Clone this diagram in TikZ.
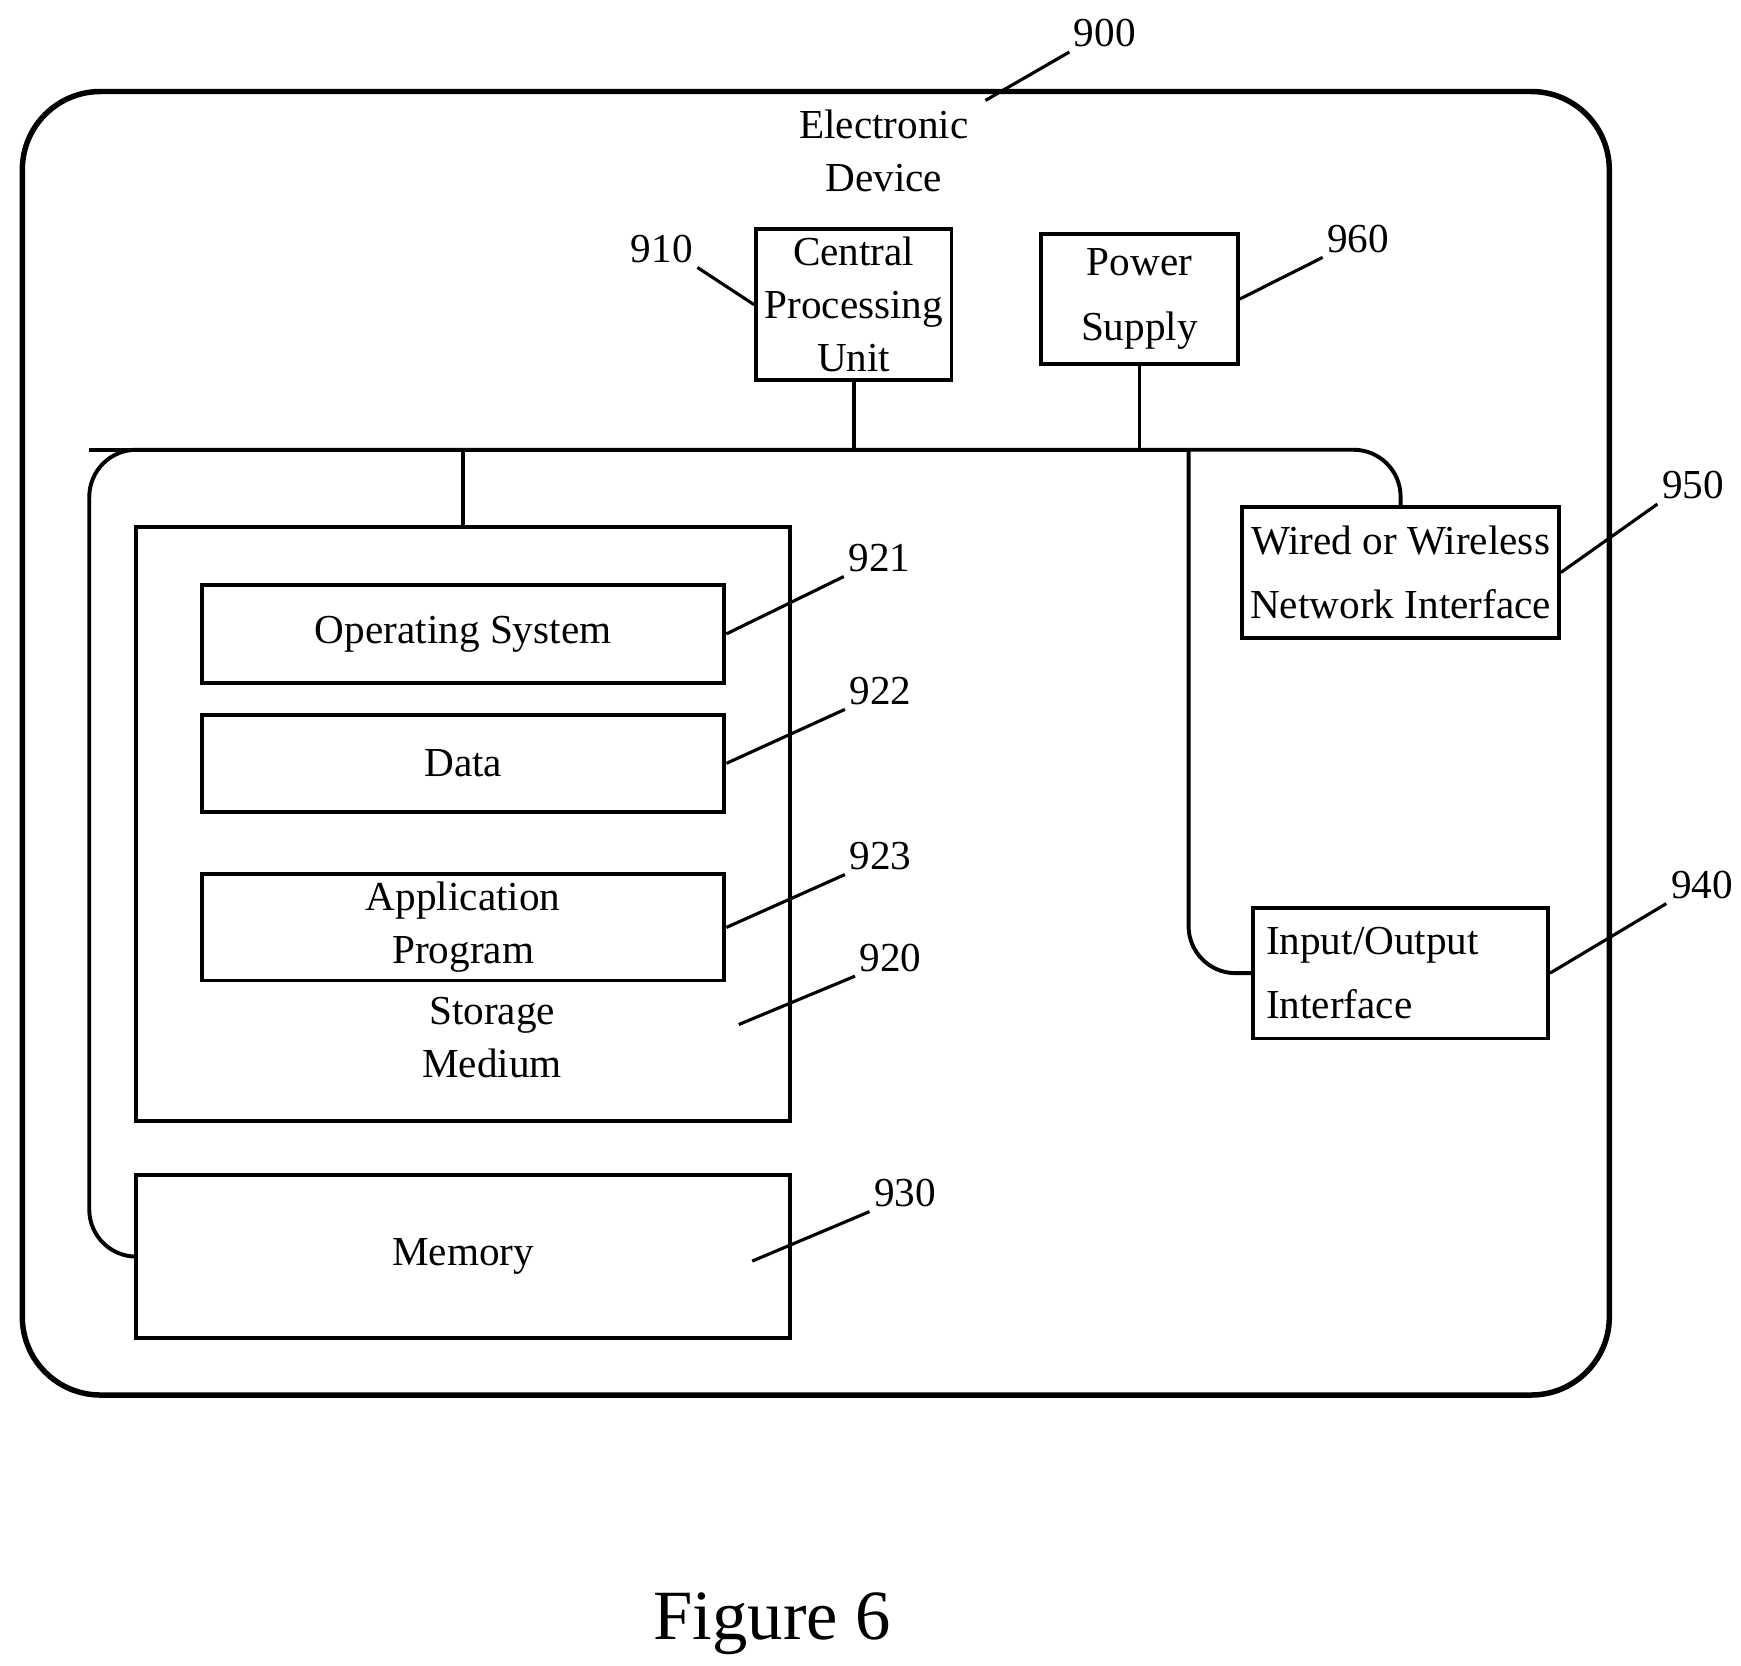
\documentclass[tikz,border=0pt]{standalone}
\usepackage{fontspec}
\setmainfont{Liberation Serif}
\usetikzlibrary{positioning, calc}
\tikzstyle{unitbox} = [
    rectangle,
    draw=black,
    line width=1pt,
    align=center,
    inner sep=2pt,
    font=\fontsize{10.5}{13.5}\selectfont
]
\tikzstyle{refnum} = [
    font=\fontsize{10.5}{12}\selectfont,
    inner sep=1pt
]
\tikzstyle{leader} = [
    line width=0.8pt
]
\begin{document}
\begin{tikzpicture}[x=0.01cm, y=-0.01cm]

\useasboundingbox (0,0) rectangle (1560,1492);

% Outer device frame
\draw[line width=1.4pt, rounded corners=0.7cm] (20,82) rectangle (1442,1250);
\node[unitbox, draw=none] (device) at (792,135) {Electronic\\Device};
\node[refnum] (l900) at (990,30) {900};
\coordinate (d900) at (883,90);
\draw[leader] (d900) -- (l900.south west);

% Central processing unit and power supply
\node[unitbox, minimum width=1.75cm, minimum height=1.18cm] (cpu) at (765,273) {Central\\Processing\\Unit};
\node[refnum] (l910) at (593,223) {910};
\draw[leader] (l910.south east) -- (cpu.west);

\node[unitbox, minimum width=1.76cm, minimum height=1.17cm] (power) at (1021,268) {Power\\[3pt]Supply};
\node[refnum] (l960) at (1217,214) {960};
\draw[leader] (power.east) -- (l960.south west);

% Storage medium with its contents
\node[unitbox, minimum width=5.86cm, minimum height=5.32cm] (storage) at (415,738) {};
\node[unitbox, draw=none] (storagetext) at (441,930) {Storage\\Medium};
\node[refnum] (l920) at (798,858) {920};
\coordinate (d920) at (662,918);
\draw[leader] (d920) -- (l920.south west);

\node[unitbox, minimum width=4.68cm, minimum height=0.88cm] (os) at (415,568) {Operating System};
\node[refnum] (l921) at (788,500) {921};
\draw[leader] (os.east) -- (l921.south west);

\node[unitbox, minimum width=4.68cm, minimum height=0.87cm] (data) at (415,684) {Data};
\node[refnum] (l922) at (789,619) {922};
\draw[leader] (data.east) -- (l922.south west);

\node[unitbox, minimum width=4.68cm, minimum height=0.94cm] (app) at (415,831) {Application\\Program};
\node[refnum] (l923) at (789,767) {923};
\draw[leader] (app.east) -- (l923.south west);

% Memory
\node[unitbox, minimum width=5.86cm, minimum height=1.46cm] (memory) at (415,1126) {Memory};
\node[refnum] (l930) at (811,1069) {930};
\coordinate (d930) at (674,1130);
\draw[leader] (d930) -- (l930.south west);

% Interfaces
\node[unitbox, minimum width=2.64cm, minimum height=1.17cm] (network) at (1255,513) {Wired or Wireless\\[3pt]Network Interface};
\node[refnum] (l950) at (1517,435) {950};
\draw[leader] (network.east) -- (l950.south west);

\node[unitbox, minimum width=2.64cm, minimum height=1.17cm, align=left] (io) at (1255,872) {Input/Output\\[3pt]Interface\hspace*{1.1cm}};
\node[refnum] (l940) at (1525,793) {940};
\draw[leader] (io.east) -- (l940.south west);

% Bus connections
\coordinate (busL) at (80,403);
\coordinate (busM) at (1065,403);
\draw[line width=1pt, rounded corners=12pt] (memory.west) -| (busL) -- (busM) -| (network.north);
\draw[line width=1pt] (busL) -- (busM);
\draw[line width=1pt, rounded corners=12pt] (busM) |- (io.west);
\draw[line width=1pt] (cpu.south) -- (cpu.south |- busL);
\draw[line width=1pt] (power.south) -- (power.south |- busL);
\draw[line width=1pt] (storage.north) -- (storage.north |- busL);

% Caption
\node[font=\fontsize{18}{20}\selectfont] (caption) at (692,1455) {Figure 6};

\end{tikzpicture}
\end{document}
